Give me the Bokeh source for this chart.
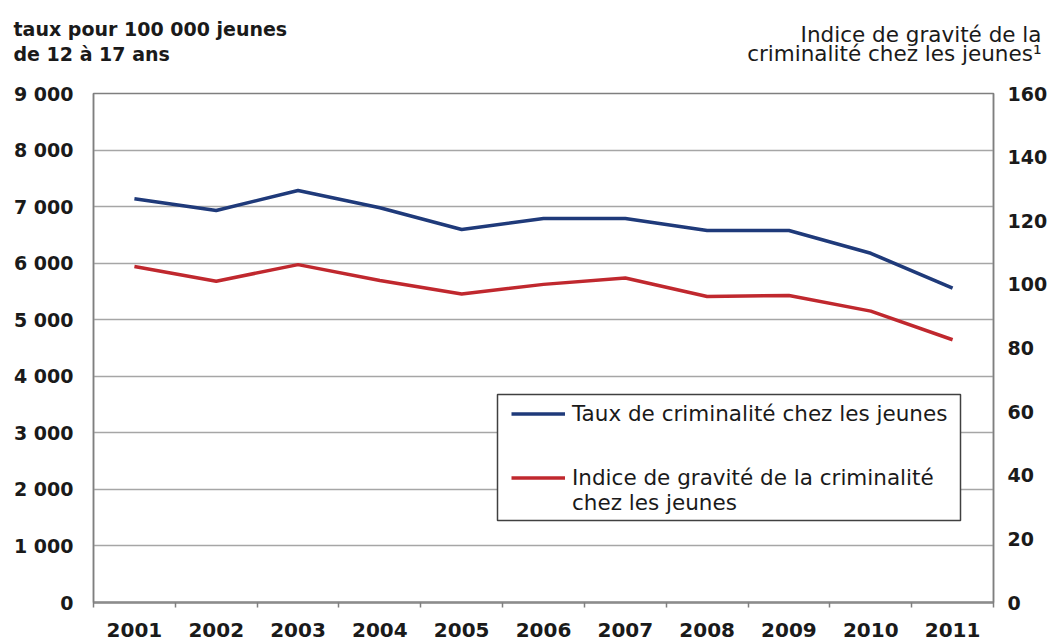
from bokeh.plotting import figure
from bokeh.models import (Range1d, LinearAxis, FixedTicker, Legend, LegendItem, BoxAnnotation)
from bokeh.layouts import column
from bokeh.core.properties import value
from bokeh.embed import file_html
from bokeh.resources import INLINE

years = [2001, 2002, 2003, 2004, 2005, 2006, 2007, 2008, 2009, 2010, 2011]
taux = [7140, 6930, 7285, 6980, 6595, 6790, 6790, 6577, 6577, 6175, 5557]
indice = [105.6, 101.0, 106.2, 101.2, 97.0, 100.0, 102.0, 96.2, 96.5, 91.6, 82.6]

left_ticks = [0, 1000, 2000, 3000, 4000, 5000, 6000, 7000, 8000, 9000]
left_labels = ["0", "1 000", "2 000", "3 000", "4 000", "5 000", "6 000", "7 000", "8 000", "9 000"]
right_ticks = [0, 20, 40, 60, 80, 100, 120, 140, 160]

left_title = ["taux pour 100 000 jeunes", "de 12 à 17 ans"]
right_title = ["Indice de gravité de la", "criminalité chez les jeunes¹"]
legend_labels = ["Taux de criminalité chez les jeunes",
                 "Indice de gravité de la criminalité", "chez les jeunes"]

FONT = "DejaVu Sans"
TXT = "#1a1a1a"
BLUE = "#1f3a7a"
RED = "#c0282e"
AXC = "#7f7f7f"

# ---------- header with the two axis titles ----------
H = 70
head = figure(width=1058, height=H, output_backend="svg", toolbar_location=None,
              x_range=Range1d(0, 1058), y_range=Range1d(H, 0),
              x_axis_type=None, y_axis_type=None,
              min_border=0, min_border_left=0, min_border_right=0,
              min_border_top=0, min_border_bottom=0)
head.outline_line_color = None
head.grid.visible = False
head.text(x=[13, 13], y=[28.5, 53], text=left_title,
          text_font=value(FONT), text_font_style="bold", text_font_size="19px",
          text_color=TXT, text_baseline="alphabetic", text_align="left")
head.text(x=[1041, 1041], y=[33.5, 53], text=right_title,
          text_font=value(FONT), text_font_size="21.5px",
          text_color=TXT, text_baseline="alphabetic", text_align="right")

# ---------- main chart ----------
p = figure(width=1058, height=641 - H, output_backend="svg", toolbar_location=None,
           x_range=Range1d(years[0] - 0.5, years[-1] + 0.5),
           y_range=Range1d(0, 9000),
           min_border_left=93, min_border_right=65, min_border_top=93 - H, min_border_bottom=39)
p.extra_y_ranges = {"right": Range1d(0, 160)}

p.outline_line_color = AXC
p.outline_line_width = 1.5

xa = p.xaxis[0]
xa.ticker = FixedTicker(ticks=years, minor_ticks=[y - 0.5 for y in years] + [years[-1] + 0.5])
xa.major_tick_out = 0
xa.major_tick_in = 0
xa.minor_tick_out = 5
xa.minor_tick_in = 0
xa.minor_tick_line_color = AXC
xa.minor_tick_line_width = 1.5
xa.axis_line_color = "#8c8c8c"
xa.axis_line_width = 2.5
xa.major_label_standoff = 15
xa.major_label_text_font = FONT
xa.major_label_text_font_style = "bold"
xa.major_label_text_font_size = "20px"
xa.major_label_text_color = TXT

ya = p.yaxis[0]
ya.ticker = FixedTicker(ticks=left_ticks)
ya.major_label_overrides = {t: l for t, l in zip(left_ticks, left_labels)}
ya.major_tick_line_color = None
ya.minor_tick_line_color = None
ya.axis_line_color = AXC
ya.axis_line_width = 1.5
ya.major_label_standoff = 14
ya.major_label_text_font = FONT
ya.major_label_text_font_style = "bold"
ya.major_label_text_font_size = "19px"
ya.major_label_text_color = TXT

ra = LinearAxis(y_range_name="right", ticker=FixedTicker(ticks=right_ticks))
ra.major_tick_line_color = None
ra.minor_tick_line_color = None
ra.axis_line_color = AXC
ra.axis_line_width = 1.5
ra.major_label_standoff = 8
ra.major_label_text_font = FONT
ra.major_label_text_font_style = "bold"
ra.major_label_text_font_size = "19px"
ra.major_label_text_color = TXT
p.add_layout(ra, "right")

p.xgrid.grid_line_color = None
p.ygrid.ticker = FixedTicker(ticks=left_ticks[1:-1])
p.ygrid.grid_line_color = "#a6a6a6"
p.ygrid.grid_line_width = 1.5

r1 = p.line(years, taux, line_color=BLUE, line_width=3.5)
r2 = p.line(years, indice, line_color=RED, line_width=3.5, y_range_name="right")

# legend frame (screen units relative to the plot frame, y measured from its bottom)
box = BoxAnnotation(left=404, right=867, top=208, bottom=82,
                    left_units="screen", right_units="screen",
                    top_units="screen", bottom_units="screen",
                    fill_color="white", fill_alpha=1.0,
                    line_color="#404040", line_width=1.5, line_alpha=1.0)
p.add_layout(box)


def make_legend(items, loc):
    lg = Legend(items=items, location=loc)
    lg.border_line_color = None
    lg.background_fill_alpha = 0
    lg.padding = 0
    lg.margin = 0
    lg.spacing = 0
    lg.glyph_width = 54
    lg.glyph_height = 25
    lg.label_height = 25
    lg.label_standoff = 7
    lg.label_text_font = FONT
    lg.label_text_font_size = "21.5px"
    lg.label_text_color = TXT
    return lg


legA = make_legend([LegendItem(label=legend_labels[0], renderers=[r1])], (418, 176))
legB = make_legend([LegendItem(label=legend_labels[1], renderers=[r2]),
                    LegendItem(label=legend_labels[2], renderers=[])], (418, 87))
p.add_layout(legA, "center")
p.add_layout(legB, "center")

layout = column(column(head), p, spacing=0)
open("out.html", "w").write(file_html(layout, INLINE))
